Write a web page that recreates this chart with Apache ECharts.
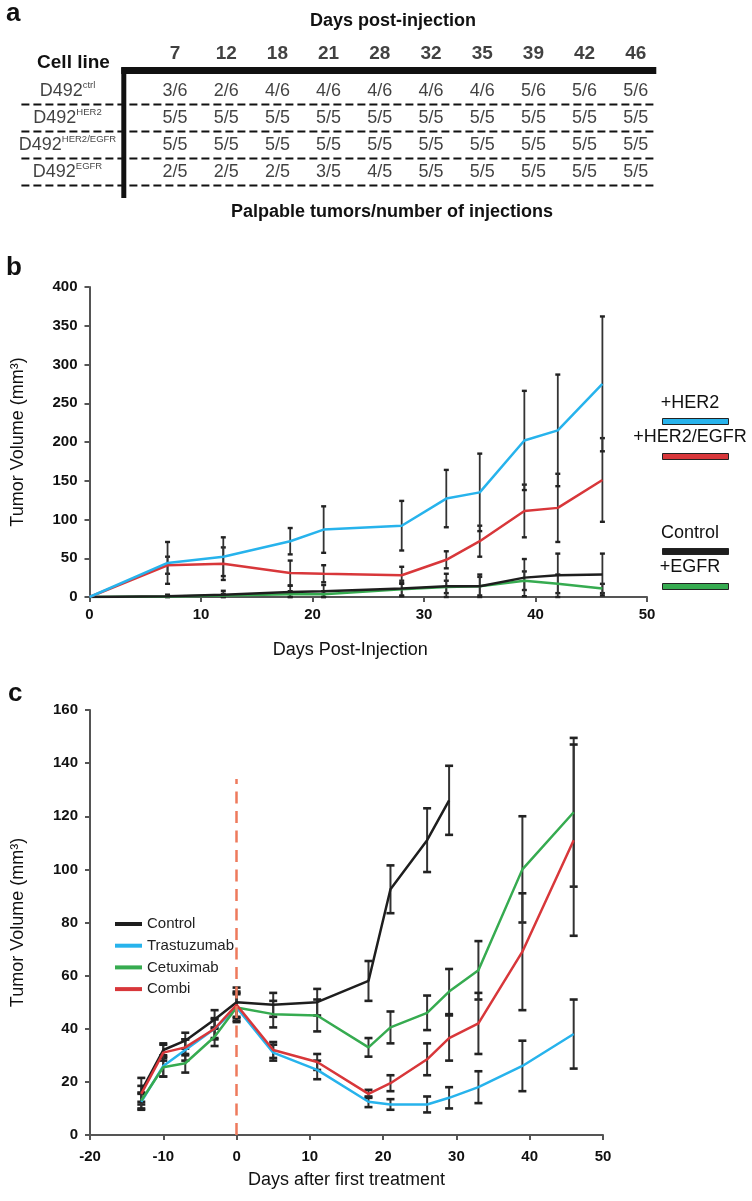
<!DOCTYPE html>
<html><head><meta charset="utf-8">
<script src="https://cdn.jsdelivr.net/npm/echarts@6/dist/echarts.min.js"></script>
<style>html,body{margin:0;padding:0;background:#fff}#chart{width:752px;height:1201px}</style>
</head><body><div id="chart"></div>
<script>
// ---------- Panel a : table ----------
const tableDays = [7, 12, 18, 21, 28, 32, 35, 39, 42, 46];
const cellLineBase = 'D492';
const cellLineSups = ['ctrl', 'HER2', 'HER2/EGFR', 'EGFR'];
const palpableCtrl = ['3/6','2/6','4/6','4/6','4/6','4/6','4/6','5/6','5/6','5/6'];
const palpableHER2 = ['5/5','5/5','5/5','5/5','5/5','5/5','5/5','5/5','5/5','5/5'];
const palpableHER2EGFR = ['5/5','5/5','5/5','5/5','5/5','5/5','5/5','5/5','5/5','5/5'];
const palpableEGFR = ['2/5','2/5','2/5','3/5','4/5','5/5','5/5','5/5','5/5','5/5'];

// ---------- Panel b ----------
const daysB = [0, 7, 12, 18, 21, 28, 32, 35, 39, 42, 46];
const her2 = [0, 44, 52, 72, 87, 92, 127, 135, 202, 215, 275];
const her2Err = [0, 27, 25, 17, 30, 32, 37, 50, 64, 72, 87];
const her2egfr = [0, 41, 43, 31, 30, 28, 48, 72, 111, 115, 151];
const her2egfrErr = [0, 11, 21, 16, 11, 11, 11, 20, 34, 44, 54];
const controlB = [0, 1, 3, 6.5, 7.5, 11, 14, 14, 25, 28, 29];
const controlBErr = [0, 2, 5, 8, 8, 10, 16, 15, 24, 28, 27];
const egfrB = [0, 0.5, 2, 3.5, 3.5, 10, 13, 14, 21, 17, 11];
const egfrBErr = [0, 1, 2, 4, 4, 8, 8, 12, 12, 12, 6];

// ---------- Panel c ----------
const daysCtrlC = [-13, -10, -7, -3, 0, 5, 11, 18, 21, 26, 29];
const controlC = [16.5, 32, 35.5, 43.5, 50, 49, 50, 58, 92.5, 111, 126];
const controlCErr = [5, 2.5, 3, 3.5, 5.5, 4.5, 5, 7.5, 9, 12, 13];
const daysC = [-13, -10, -7, -3, 0, 5, 11, 18, 21, 26, 29, 33, 39, 46];
const trastuzumab = [12.5, 26, 32, 40, 48, 31, 24.5, 12.5, 11.5, 11.5, 14, 18, 26, 38];
const trastuzumabErr = [3, 4, 4, 4, 5, 3, 3.5, 2, 2, 3, 4, 6, 9.5, 13];
const cetuximab = [13, 25.5, 27, 37, 48, 45.5, 45, 33, 40.5, 46, 54, 62, 100, 121.5];
const cetuximabErr = [3, 3.5, 3.5, 3.5, 5.5, 5, 6, 3.5, 6, 6.5, 8.5, 11, 20, 28];
const combi = [15.5, 31, 33, 40, 49, 32, 27.5, 15.5, 19.5, 28.5, 36.5, 42, 69, 111];
const combiErr = [3, 3, 3, 3.5, 5, 3, 3, 1.5, 3, 6, 8.5, 11.5, 22, 36];
const treatmentDay = 0;
const treatmentLineTop = 134;

const FF = "'Liberation Sans', Arial, sans-serif";
const C = {blue:'#27b3ec', red:'#d8373a', black:'#1e1e1e', green:'#36ab50', dash:'#ee7a5c'};

const chart = echarts.init(document.getElementById('chart'), null, {renderer:'canvas'});

// table helpers
const tableRows = [palpableCtrl, palpableHER2, palpableHER2EGFR, palpableEGFR];
const nCols = tableDays.length;
const cellData = [];
tableRows.forEach((row, r) => row.forEach((txt, c) => cellData.push({value:[c + 1, r], name:txt})));
const headerData = tableDays.map((d, c) => ({value:[c + 1, -1.39], name:String(d)}));
const rowLabelData = cellLineSups.map((s, r) => ({value:[-1.1, r], name:cellLineBase, sup:s}));

function rule(points, width, type) {
  return {type:'line', xAxisIndex:0, yAxisIndex:0, data:points, symbol:'none', silent:true,
    lineStyle:{color:'#111', width:width, type:type || 'solid', cap:'butt'}, z:1};
}
const tableRules = [
  rule([[-0.05, -0.76], [10.4, -0.76]], 7),
  rule([[0, -0.87], [0, tableRows.length - 0.04]], 5)
];
tableRows.forEach((row, r) => tableRules.push(rule([[-2, r + 0.5], [10.4, r + 0.5]], 2.2, [8, 4])));

function textScatter(data, fontSize, fontWeight, formatter, rich) {
  return {type:'scatter', xAxisIndex:0, yAxisIndex:0, data:data, symbolSize:1, silent:true,
    itemStyle:{color:'rgba(0,0,0,0)'},
    label:{show:true, position:'inside', formatter:formatter || '{b}', color:'#111',
      fontFamily:FF, fontSize:fontSize, fontWeight:fontWeight, rich:rich}};
}

function line(name, xs, ys, color, axis, width) {
  return {type:'line', name:name, xAxisIndex:axis, yAxisIndex:axis, data:xs.map((x, i) => [x, ys[i]]),
    symbol:'none', color:color, itemStyle:{color:color}, lineStyle:{color:color, width:width || 2.5}, z:4};
}
function errSeries(name, xs, ys, es, axis, cap, lw, clipZero) {
  return {type:'custom', name:name, xAxisIndex:axis, yAxisIndex:axis, z:3, silent:true,
    data:xs.map((x, i) => [x, ys[i], es[i]]),
    renderItem:function(params, api) {
      const x = api.value(0), y = api.value(1), e = api.value(2);
      if (!e) return null;
      const lo = clipZero ? Math.max(0, y - e) : y - e;
      const t = api.coord([x, y + e]), b = api.coord([x, lo]);
      const st = {stroke:'#333', lineWidth:lw};
      return {type:'group', children:[
        {type:'line', shape:{x1:t[0], y1:t[1], x2:b[0], y2:b[1]}, style:st},
        {type:'line', shape:{x1:t[0] - cap, y1:t[1], x2:t[0] + cap, y2:t[1]}, style:{stroke:'#222', lineWidth:lw + 0.6}},
        {type:'line', shape:{x1:b[0] - cap, y1:b[1], x2:b[0] + cap, y2:b[1]}, style:{stroke:'#222', lineWidth:lw + 0.6}}
      ]};
    }};
}

const axisLineStyle = {color:'#555', width:2};
const tickLabel = {color:'#111', fontFamily:FF, fontSize:15, fontWeight:'bold'};
const nameStyle = {color:'#111', fontFamily:FF, fontSize:18};

function txt(text, x, y, size, weight, align) {
  return {type:'text', x:x, y:y, silent:true, style:{text:text, fill:'#111', font:(weight || 'normal') + ' ' + size + 'px ' + FF,
    textAlign:align || 'center', textVerticalAlign:'middle', align:align || 'center', verticalAlign:'middle'}};
}

const option = {
  animation:false,
  backgroundColor:'#fff',
  grid:[
    {left:21.4, top:10, width:634.9, height:216},
    {left:89.5, top:287, width:557.5, height:310},
    {left:90, top:710, width:513, height:425}
  ],
  xAxis:[
    {gridIndex:0, type:'value', min:-2, max:10.4, show:false},
    {gridIndex:1, type:'value', min:0, max:50, interval:10,
      axisLine:{show:true, onZero:false, lineStyle:axisLineStyle},
      axisTick:{show:true, length:5, lineStyle:axisLineStyle}, splitLine:{show:false},
      axisLabel:Object.assign({margin:10}, tickLabel),
      name:'Days Post-Injection', nameLocation:'middle', nameGap:44,
      nameTextStyle:Object.assign({padding:[0, 36, 0, 0]}, nameStyle)},
    {gridIndex:2, type:'value', min:-20, max:50, interval:10,
      axisLine:{show:true, onZero:false, lineStyle:axisLineStyle},
      axisTick:{show:true, length:5, lineStyle:axisLineStyle}, splitLine:{show:false},
      axisLabel:Object.assign({margin:14}, tickLabel),
      name:'Days after first treatment', nameLocation:'middle', nameGap:36, nameTextStyle:nameStyle}
  ],
  yAxis:[
    {gridIndex:0, type:'value', min:-3, max:5, inverse:true, show:false},
    {gridIndex:1, type:'value', min:0, max:400, interval:50,
      axisLine:{show:true, onZero:false, lineStyle:axisLineStyle},
      axisTick:{show:true, length:5, lineStyle:axisLineStyle}, splitLine:{show:false},
      axisLabel:Object.assign({margin:12}, tickLabel),
      name:'Tumor Volume (mm³)', nameLocation:'middle', nameGap:62, nameTextStyle:nameStyle},
    {gridIndex:2, type:'value', min:0, max:160, interval:20,
      axisLine:{show:true, onZero:false, lineStyle:axisLineStyle},
      axisTick:{show:true, length:5, lineStyle:axisLineStyle}, splitLine:{show:false},
      axisLabel:Object.assign({margin:12}, tickLabel),
      name:'Tumor Volume (mm³)', nameLocation:'middle', nameGap:63, nameTextStyle:nameStyle}
  ],
  legend:[
    {data:['+HER2', '+HER2/EGFR'], orient:'vertical', left:657, top:413, icon:'rect', itemWidth:66, itemHeight:6,
      itemGap:28, formatter:function(){return '';}, textStyle:{fontSize:6, lineHeight:6},
      itemStyle:{borderColor:'#222', borderWidth:1}, selectedMode:false},
    {data:['Control (b)', '+EGFR'], orient:'vertical', left:657, top:543, icon:'rect', itemWidth:66, itemHeight:6,
      itemGap:28, formatter:function(){return '';}, textStyle:{fontSize:6, lineHeight:6},
      itemStyle:{borderColor:'#222', borderWidth:1}, selectedMode:false},
    {data:['Control', 'Trastuzumab', 'Cetuximab', 'Combi'], orient:'vertical', left:110, top:911, icon:'rect',
      itemWidth:27, itemHeight:4, itemGap:5.7, selectedMode:false,
      textStyle:{fontFamily:FF, fontSize:15, lineHeight:16, color:'#222'}}
  ],
  graphic:{elements:[
    txt('a', 6, 14, 26, 'bold', 'left'),
    txt('b', 6, 268, 26, 'bold', 'left'),
    txt('c', 8, 694, 26, 'bold', 'left'),
    txt('Days post-injection', 393, 21, 18, 'bold'),
    txt('Cell line', 73.5, 63, 19, 'bold'),
    txt('Palpable tumors/number of injections', 392, 212, 18, 'bold'),
    txt('+HER2', 690, 403, 18),
    txt('+HER2/EGFR', 690, 437, 18),
    txt('Control', 690, 533, 18),
    txt('+EGFR', 690, 567, 18)
  ]},
  series:[
    ...tableRules,
    textScatter(cellData, 18, 'normal'),
    textScatter(headerData, 19, 'bold'),
    textScatter(rowLabelData, 18, 'normal', function(p){return '{b|' + p.data.name + '}{s|' + p.data.sup + '}';},
      {b:{fontSize:18, lineHeight:22, fontFamily:FF, color:'#111'}, s:{fontSize:9.5, lineHeight:12, verticalAlign:'top', fontFamily:FF, color:'#111'}}),

    errSeries('err_b_egfr', daysB, egfrB, egfrBErr, 1, 2.5, 1.8, true),
    errSeries('err_b_ctrl', daysB, controlB, controlBErr, 1, 2.5, 1.8, true),
    errSeries('err_b_her2egfr', daysB, her2egfr, her2egfrErr, 1, 2.5, 1.8, true),
    errSeries('err_b_her2', daysB, her2, her2Err, 1, 2.5, 1.8, true),
    line('+EGFR', daysB, egfrB, C.green, 1),
    line('Control (b)', daysB, controlB, C.black, 1),
    line('+HER2/EGFR', daysB, her2egfr, C.red, 1),
    line('+HER2', daysB, her2, C.blue, 1),

    errSeries('err_c_ctrl', daysCtrlC, controlC, controlCErr, 2, 4, 2, false),
    errSeries('err_c_tra', daysC, trastuzumab, trastuzumabErr, 2, 4, 2, false),
    errSeries('err_c_cet', daysC, cetuximab, cetuximabErr, 2, 4, 2, false),
    errSeries('err_c_com', daysC, combi, combiErr, 2, 4, 2, false),
    Object.assign(line('Control', daysCtrlC, controlC, C.black, 2), {
      markLine:{silent:true, symbol:['none', 'none'], label:{show:false},
        lineStyle:{color:C.dash, width:2.5, type:[12, 7.5]},
        data:[[{coord:[treatmentDay, 0]}, {coord:[treatmentDay, treatmentLineTop]}]]}}),
    line('Trastuzumab', daysC, trastuzumab, C.blue, 2),
    line('Cetuximab', daysC, cetuximab, C.green, 2),
    line('Combi', daysC, combi, C.red, 2)
  ]
};
chart.setOption(option);
</script></body></html>
